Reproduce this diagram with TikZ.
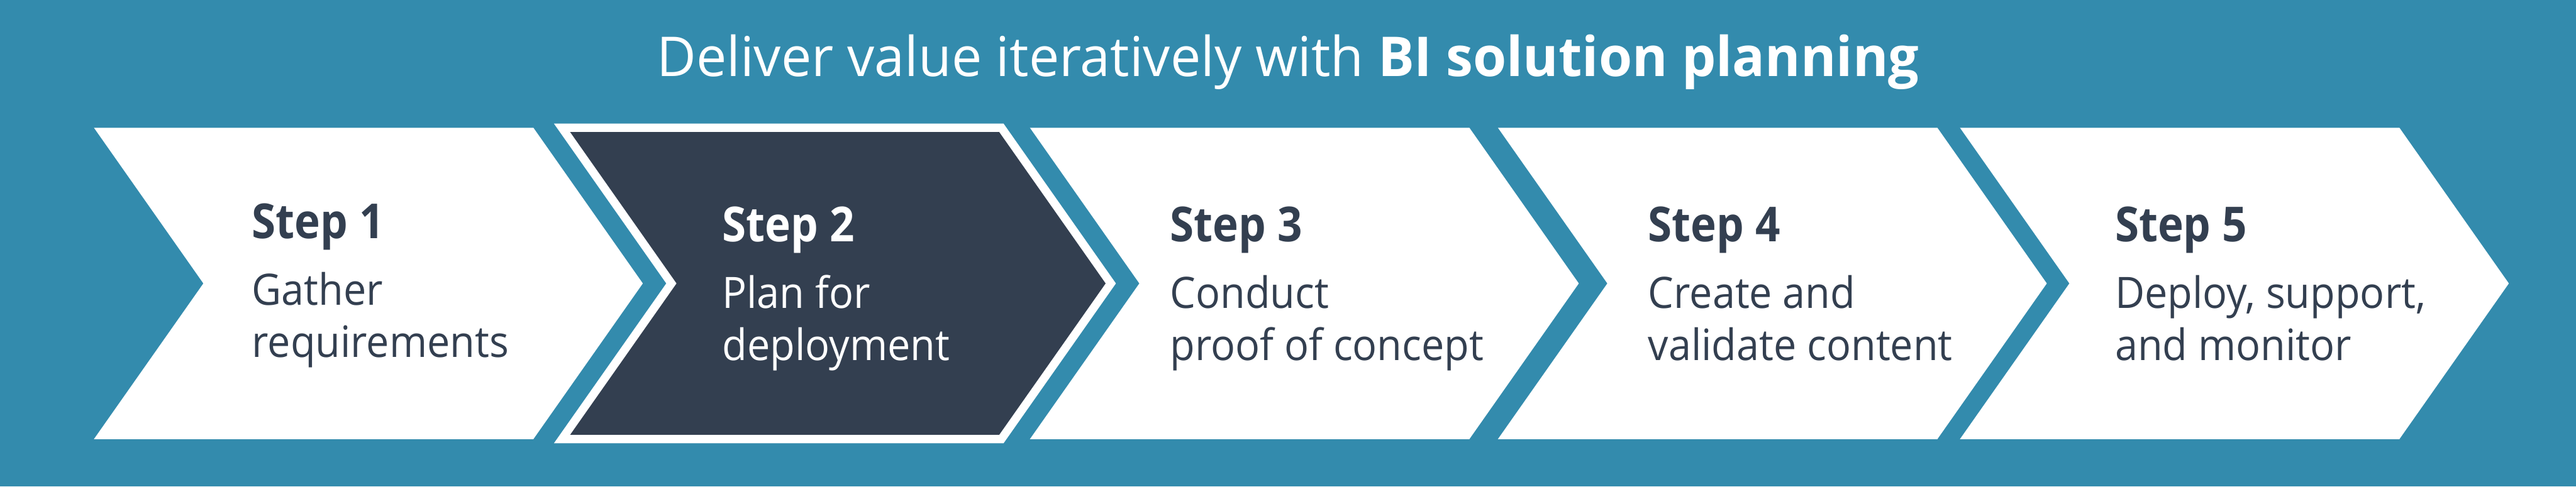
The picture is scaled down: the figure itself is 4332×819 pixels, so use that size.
\documentclass[tikz,border=0pt]{standalone}
\usepackage{fontspec}
\setmainfont{Open Sans}[FakeStretch=0.94]
\newfontfamily\titlefont{Open Sans}[FakeStretch=0.985]
\newfontfamily\stepfont{Open Sans}[FakeStretch=0.9]
\definecolor{bgteal}{HTML}{338BAD}
\definecolor{navy}{HTML}{333F50}
\tikzset{
  chevron/.pic={\path[pic actions] (0,0) -- (739,0) -- (923,262) -- (739,524) -- (0,524) -- (184,262) -- cycle;},
  steplbl/.style={anchor=base west, inner sep=0pt, font=\stepfont\bfseries\fontsize{20.3}{24}\selectfont, text=navy},
  bodytxt/.style={anchor=base west, inner sep=0pt, font=\fontsize{18.2}{22}\selectfont, text=navy},
  plainchev/.style={fill=white},
  activechev/.style={fill=navy, draw=white, line width=3.5pt, line join=miter}
}
\begin{document}
\begin{tikzpicture}[x=0.25pt,y=-0.25pt]
\fill[bgteal] (0,0) rectangle (4332,819);
\useasboundingbox (0,0) rectangle (4332,819);
\node[anchor=base, inner sep=0pt, text=white, font=\titlefont\fontsize{23.1}{28}\selectfont] (title) at (2166,129) {Deliver value iteratively with \textbf{BI solution planning}};
\pic[plainchev] at (158,215) {chevron};
\pic[activechev] at (945,215) {chevron};
\pic[plainchev] at (1732,215) {chevron};
\pic[plainchev] at (2519,215) {chevron};
\pic[plainchev] at (3296,215) {chevron};
% step 1
\node[steplbl] (s1) at (423,401) {Step 1};
\node[bodytxt] (a1) at (423,513) {Gather};
\node[bodytxt] (b1) at (423,601) {requirements};
% step 2
\node[steplbl, text=white] (s2) at (1214,407) {Step 2};
\node[bodytxt, text=white] (a2) at (1214,519) {Plan for};
\node[bodytxt, text=white] (b2) at (1214,607) {deployment};
% step 3
\node[steplbl] (s3) at (1967,407) {Step 3};
\node[bodytxt] (a3) at (1967,519) {Conduct};
\node[bodytxt] (b3) at (1967,607) {proof of concept};
% step 4
\node[steplbl] (s4) at (2771,407) {Step 4};
\node[bodytxt] (a4) at (2771,519) {Create and};
\node[bodytxt] (b4) at (2771,607) {validate content};
% step 5
\node[steplbl] (s5) at (3556,407) {Step 5};
\node[bodytxt] (a5) at (3556,519) {Deploy, support,};
\node[bodytxt] (b5) at (3556,607) {and monitor};
\end{tikzpicture}
\end{document}
